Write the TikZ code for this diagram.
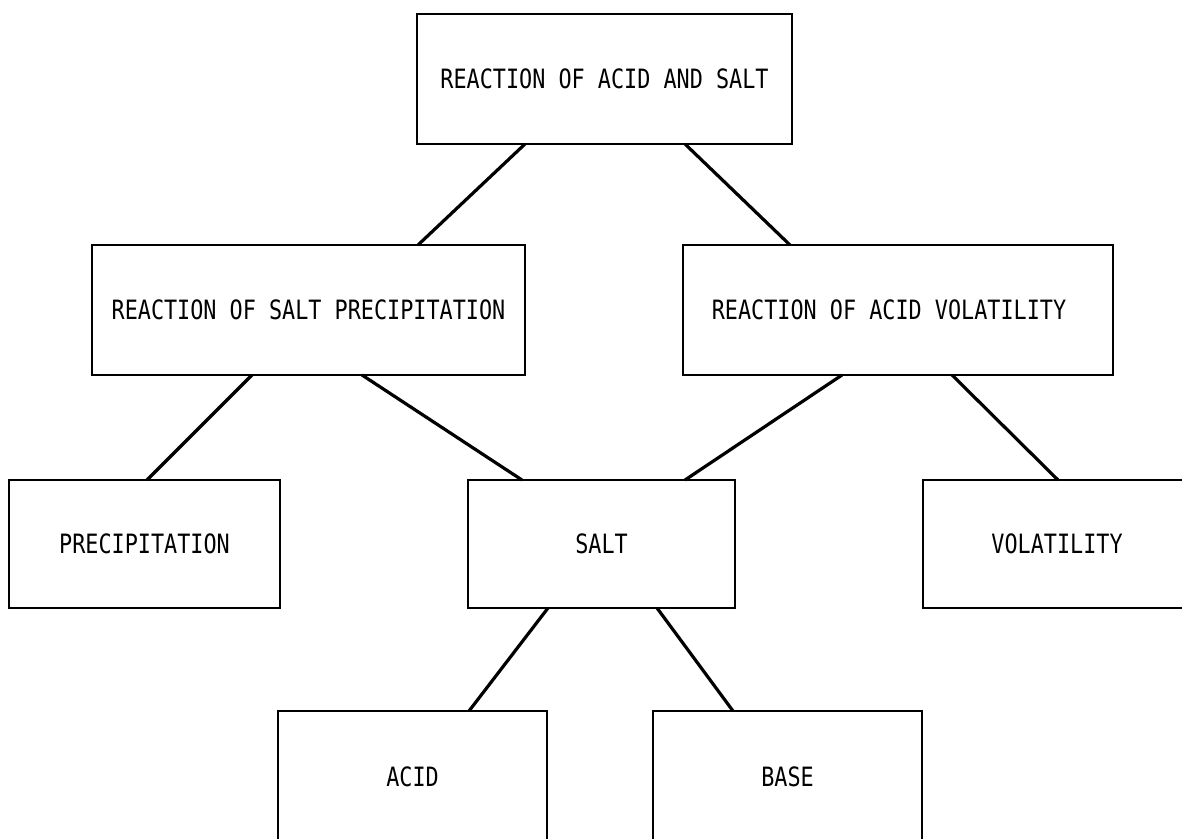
\documentclass[tikz,border=0pt]{standalone}
\usepackage{fontspec}
\usepackage{graphicx}
\newfontfamily\boxfont{DejaVu Sans Mono}
\newcommand{\boxtext}[1]{\scalebox{1}[1.22]{#1}}
\begin{document}
\begin{tikzpicture}[x=1pt,y=-1pt,
  box/.style={draw=black, line width=2.8pt, fill=white, rectangle,
    inner sep=0pt, outer sep=0pt, align=center,
    font=\boxfont\fontsize{21.8}{26}\selectfont},
  link/.style={draw=black, line width=3.2pt}]
  \useasboundingbox (0,0) rectangle (1182,838);
  \clip (0,0) rectangle (1182,838);
  \fill[white] (0,0) rectangle (1182,838);

  % boxes
  \node[box, minimum width=375pt, minimum height=130pt] (top)    at (604.5,79)  {\boxtext{REACTION OF ACID AND SALT}};
  \node[box, minimum width=433pt, minimum height=130pt] (lmid)   at (308.5,310) {\boxtext{REACTION OF SALT PRECIPITATION}};
  \node[box, minimum width=430pt, minimum height=130pt] (rmid)   at (898,310)   {\boxtext{REACTION OF ACID VOLATILITY}\hspace*{18pt}};
  \node[box, minimum width=271pt, minimum height=128pt] (precip) at (144.5,544) {\boxtext{PRECIPITATION}};
  \node[box, minimum width=267pt, minimum height=128pt] (salt)   at (601.5,544) {\boxtext{SALT}};
  \node[box, minimum width=268pt, minimum height=128pt] (vol)    at (1057,544)  {\boxtext{VOLATILITY}};
  \node[box, minimum width=269pt, minimum height=131pt] (acid)   at (412.5,776.5) {\boxtext{ACID}};
  \node[box, minimum width=269pt, minimum height=131pt] (base)   at (787.5,776.5) {\boxtext{BASE}};

  % connectors
  \draw[link] ([xshift=108pt]top.south west)  -- ([xshift=326pt]lmid.north west);
  \draw[link] ([xshift=268pt]top.south west)  -- ([xshift=107pt]rmid.north west);
  \draw[link] ([xshift=160pt]lmid.south west) -- ([xshift=138pt]precip.north west);
  \draw[link] ([xshift=270pt]lmid.south west) -- ([xshift=54pt]salt.north west);
  \draw[link] ([xshift=159pt]rmid.south west) -- ([xshift=217pt]salt.north west);
  \draw[link] ([xshift=269pt]rmid.south west) -- ([xshift=135pt]vol.north west);
  \draw[link] ([xshift=80pt]salt.south west)  -- ([xshift=191pt]acid.north west);
  \draw[link] ([xshift=189pt]salt.south west) -- ([xshift=80pt]base.north west);
\end{tikzpicture}
\end{document}
